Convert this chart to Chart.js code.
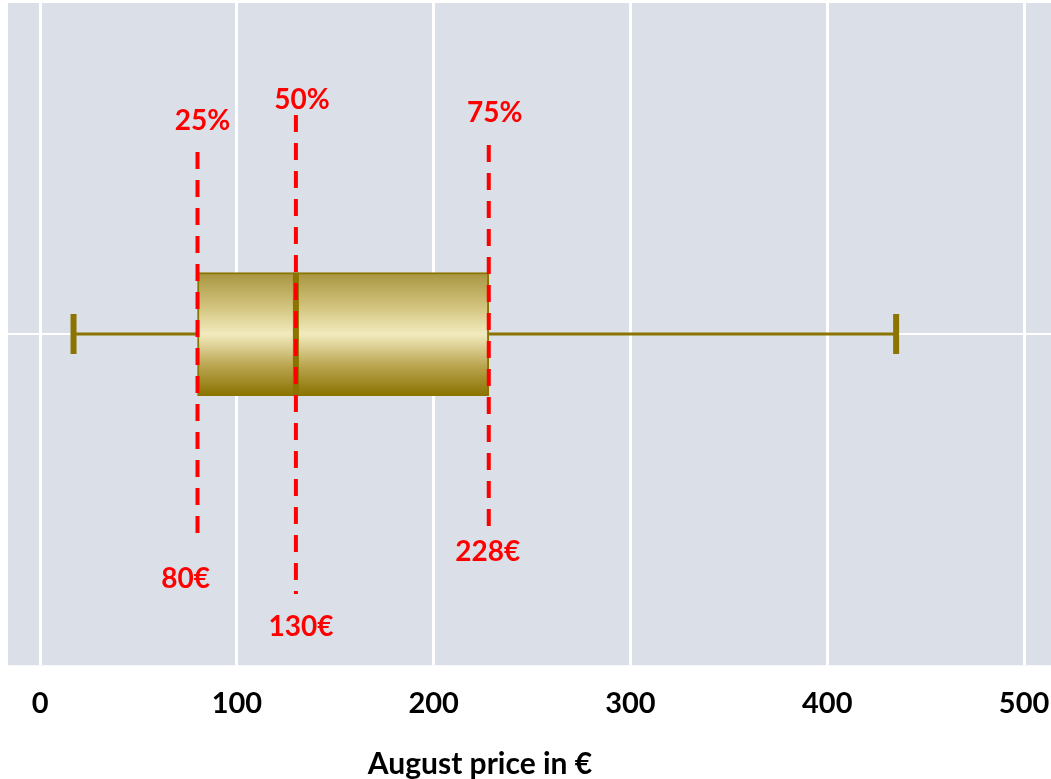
<!DOCTYPE html>
<html>
<head>
<meta charset="utf-8">
<script src="https://cdn.jsdelivr.net/npm/chart.js@4"></script>
<style>
  html, body { margin: 0; padding: 0; background: #ffffff; }
  #wrap { width: 1051px; height: 779px; }
</style>
</head>
<body>
<div id="wrap"><canvas id="boxChart" width="1051" height="779"></canvas></div>
<script>
// Data
const categories = ['August'];
const minValues = [17];
const q1Values = [80];
const medianValues = [130];
const q3Values = [228];
const maxValues = [435];
const tickValues = [0, 100, 200, 300, 400, 500];
const quantileLabels = ['25%', '50%', '75%'];
const priceLabels = ['80€', '130€', '228€'];

const FONT = 'Lato, "DejaVu Sans", sans-serif';
const OLIVE = '#8b7500';
const BOX_THICKNESS = 123;

// Box fill: golden vertical gradient
function boxGradient(context) {
    const chart = context.chart;
    const y = chart.scales.y;
    if (!chart.chartArea || !y) return '#d3c680';
    const yc = y.getPixelForValue(context.dataIndex || 0);
    if (!isFinite(yc)) return '#d3c680';
    const g = chart.ctx.createLinearGradient(0, yc - BOX_THICKNESS / 2, 0, yc + BOX_THICKNESS / 2);
    g.addColorStop(0, '#a8953f');
    g.addColorStop(0.28, '#d2c47e');
    g.addColorStop(0.5, '#f3ebbf');
    g.addColorStop(0.75, '#bba753');
    g.addColorStop(1, '#8a7300');
    return g;
}

// Gray plot background
const plotBackground = {
    id: 'plotBackground',
    beforeDraw(chart) {
        const { ctx, chartArea } = chart;
        ctx.save();
        ctx.fillStyle = '#dbdfe8';
        ctx.fillRect(chartArea.left, chartArea.top, chartArea.right - chartArea.left, chartArea.bottom - chartArea.top);
        ctx.restore();
    }
};

// Whiskers, caps and median line
const boxExtras = {
    id: 'boxExtras',
    beforeDatasetsDraw(chart) {
        const { ctx, scales: { x, y } } = chart;
        ctx.save();
        categories.forEach((c, i) => {
            const yc = y.getPixelForValue(i);
            ctx.strokeStyle = OLIVE;
            ctx.lineWidth = 3;
            ctx.beginPath();
            ctx.moveTo(x.getPixelForValue(minValues[i]), yc);
            ctx.lineTo(x.getPixelForValue(q1Values[i]), yc);
            ctx.moveTo(x.getPixelForValue(q3Values[i]), yc);
            ctx.lineTo(x.getPixelForValue(maxValues[i]), yc);
            ctx.stroke();
            // caps
            ctx.lineWidth = 6;
            ctx.beginPath();
            [minValues[i], maxValues[i]].forEach(v => {
                const px = x.getPixelForValue(v);
                ctx.moveTo(px, yc - 20);
                ctx.lineTo(px, yc + 20);
            });
            ctx.stroke();
        });
        ctx.restore();
    },
    afterDatasetsDraw(chart) {
        const { ctx, scales: { x, y } } = chart;
        ctx.save();
        categories.forEach((c, i) => {
            const yc = y.getPixelForValue(i);
            const px = x.getPixelForValue(medianValues[i]);
            ctx.strokeStyle = OLIVE;
            ctx.lineWidth = 6;
            ctx.beginPath();
            ctx.moveTo(px, yc - BOX_THICKNESS / 2);
            ctx.lineTo(px, yc + BOX_THICKNESS / 2);
            ctx.stroke();
        });
        ctx.restore();
    }
};

// Red dashed quartile markers with their labels
const quartileMarkers = {
    id: 'quartileMarkers',
    afterDraw(chart) {
        const { ctx, scales: { x } } = chart;
        const values = [q1Values[0], medianValues[0], q3Values[0]];
        // [line top, line bottom, top label y, bottom label y, top label dx, bottom label dx]
        const layout = [
            [152, 533, 121, 579, 5, -12],
            [115, 594, 100, 627, 6, 5],
            [145, 526, 113, 552, 6, -1]
        ];
        ctx.save();
        values.forEach((v, i) => {
            const px = x.getPixelForValue(v);
            const [top, bottom, ly1, ly2, dx1, dx2] = layout[i];
            ctx.strokeStyle = '#ff0000';
            ctx.lineWidth = 4;
            ctx.setLineDash([17, 11]);
            ctx.beginPath();
            ctx.moveTo(px, top);
            ctx.lineTo(px, bottom);
            ctx.stroke();
            ctx.setLineDash([]);
            ctx.fillStyle = '#ff0000';
            ctx.font = 'bold 28px ' + FONT;
            ctx.textAlign = 'center';
            ctx.textBaseline = 'middle';
            ctx.fillText(quantileLabels[i], px + dx1, ly1);
            ctx.fillText(priceLabels[i], px + dx2, ly2);
        });
        // axis title
        ctx.fillStyle = '#000000';
        ctx.font = 'bold 30px ' + FONT;
        ctx.fillText('August price in €', 480, 764);
        ctx.restore();
    }
};

const ctx = document.getElementById('boxChart').getContext('2d');
new Chart(ctx, {
    type: 'bar',
    data: {
        labels: categories,
        datasets: [{
            data: categories.map((c, i) => [q1Values[i], q3Values[i]]),
            backgroundColor: boxGradient,
            borderColor: OLIVE,
            borderWidth: 2,
            borderSkipped: false,
            barThickness: BOX_THICKNESS
        }]
    },
    options: {
        indexAxis: 'y',
        responsive: false,
        animation: false,
        layout: { padding: { left: 8, right: 0, top: 3, bottom: 37 } },
        plugins: {
            legend: { display: false },
            tooltip: { enabled: false }
        },
        scales: {
            x: {
                type: 'linear',
                min: -16.3,
                max: 513.7,
                afterBuildTicks: scale => { scale.ticks = tickValues.map(v => ({ value: v })); },
                afterFit: scale => { scale.paddingLeft = 0; scale.paddingRight = 0; },
                grid: { color: '#ffffff', lineWidth: 3, drawTicks: false },
                border: { display: false },
                ticks: {
                    padding: 21,
                    color: '#000000',
                    font: { family: FONT, size: 29, weight: 'bold' }
                }
            },
            y: {
                grid: { color: '#ffffff', lineWidth: 2, offset: false, drawTicks: false },
                border: { display: false },
                ticks: { display: false }
            }
        }
    },
    plugins: [plotBackground, boxExtras, quartileMarkers]
});
</script>
</body>
</html>
